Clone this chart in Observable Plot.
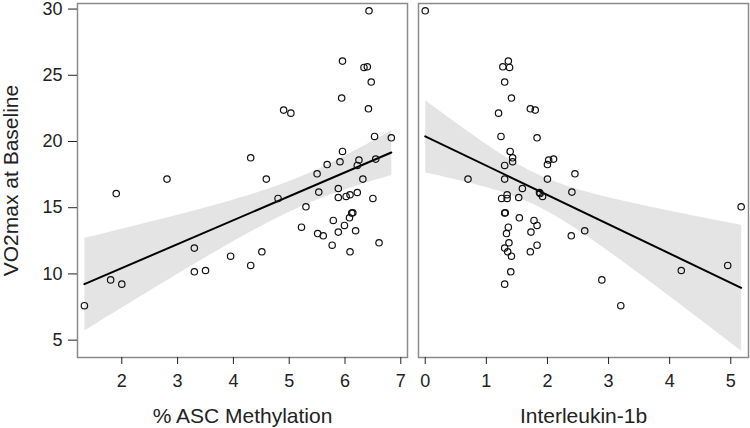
<!DOCTYPE html>
<html><head><meta charset="utf-8">
<script src="https://cdn.jsdelivr.net/npm/d3@7"></script>
<script src="https://cdn.jsdelivr.net/npm/@observablehq/plot@0.6"></script>
<style>
body{margin:0;background:#fff;}
#chart{display:flex;width:750px;height:428px;font-family:"Liberation Sans",Arial,sans-serif;}
</style></head><body><div id="chart"></div>
<script>
// VO2max at baseline (shared y), paired with % ASC methylation and Interleukin-1b
const vo2max = [7.6, 9.23, 9.55, 10.16, 10.26, 10.64, 11.34, 11.67, 11.67, 11.95,
  12.17, 12.35, 12.88, 13.05, 13.16, 13.26, 13.53, 13.66, 14.04, 14.24,
  14.6, 14.62, 15.07, 15.7, 15.7, 15.77, 15.85, 15.98, 16.07, 16.15,
  16.18, 16.45, 17.16, 17.16, 17.16, 17.56, 18.19, 18.26, 18.47, 18.6,
  18.67, 18.77, 19.25, 20.28, 20.38, 22.14, 22.37, 22.47, 23.28, 24.49,
  25.59, 25.64, 26.07, 29.87];
const ascMethylation = [1.33, 2.00, 1.80, 3.30, 3.50, 4.31, 3.95, 4.51, 6.09, 3.30,
  5.77, 6.61, 5.61, 5.51, 5.88, 6.19, 5.22, 5.99, 5.79, 6.08,
  6.12, 6.14, 5.30, 4.80, 6.50, 5.88, 6.02, 6.09, 1.90, 6.22,
  5.53, 5.88, 2.81, 4.59, 6.32, 5.50, 6.22, 5.68, 5.91, 6.25,
  6.55, 4.31, 5.955, 6.83, 6.53, 5.03, 4.90, 6.42, 5.94, 6.47,
  6.34, 6.40, 5.955, 6.43];
const interleukin1b = [3.20, 1.30, 2.89, 1.40, 4.19, 4.95, 1.41, 1.35, 1.72, 1.30,
  1.83, 1.37, 2.39, 1.33, 1.73, 2.61, 1.36, 1.83, 1.78, 1.54,
  1.30, 1.31, 5.17, 1.25, 1.34, 1.53, 1.92, 1.34, 1.88, 1.87,
  2.40, 1.59, 0.70, 1.30, 2.00, 2.45, 1.30, 2.00, 1.43, 2.02,
  2.10, 1.43, 1.39, 1.83, 1.24, 1.20, 1.80, 1.72, 1.41, 1.30,
  1.38, 1.27, 1.36, 0.00];
const yTicks = [5, 10, 15, 20, 25, 30];
const ascTicks = [2, 3, 4, 5, 6, 7];
const il1bTicks = [0, 1, 2, 3, 4, 5];
const yTitle = "VO2max at Baseline";
const ascTitle = "% ASC Methylation";
const il1bTitle = "Interleukin-1b";

const rows = vo2max.map((v, i) => ({vo2: v, asc: ascMethylation[i], il: interleukin1b[i]}));
const yDomain = [3.69, 30.42];
const fmt = d3.format("d");

function panel({xKey, xDomain, ticks, title, width, marginLeft, marginRight, showY}) {
  const marks = [
    Plot.linearRegressionY(rows, {x: xKey, y: "vo2", ci: 0.95, stroke: "#000", strokeWidth: 2, fill: "#e4e4e4", fillOpacity: 1}),
    Plot.dot(rows, {x: xKey, y: "vo2", r: 3.2, stroke: "#111", strokeWidth: 1.2, fill: "none"}),
    Plot.frame({stroke: "#8a8a8a", strokeWidth: 1.5}),
    Plot.axisX({ticks, tickFormat: fmt, tickSize: 7, tickPadding: 10, fontSize: 18, label: null}),
    Plot.text([title], {frameAnchor: "bottom", textAnchor: "middle", lineAnchor: "middle", dy: 59, fontSize: 21, fill: "#222"})
  ];
  if (showY) {
    marks.push(Plot.axisY({ticks: yTicks, tickFormat: fmt, tickSize: 9, tickPadding: 6, fontSize: 18, label: null}));
    marks.push(Plot.text([yTitle], {frameAnchor: "left", textAnchor: "middle", lineAnchor: "middle", rotate: -90, dx: -66, fontSize: 21, fill: "#222"}));
  } else {
    marks.push(Plot.axisY({ticks: [], label: null}));
  }
  return Plot.plot({
    width, height: 428,
    marginLeft, marginRight, marginTop: 3, marginBottom: 71,
    x: {domain: xDomain},
    y: {domain: yDomain},
    style: {fontFamily: "'Liberation Sans', Arial, sans-serif", color: "#222", background: "#fff", overflow: "visible"},
    marks
  });
}

const chart = document.getElementById("chart");
chart.append(panel({xKey: "asc", xDomain: [1.206, 7.12], ticks: ascTicks, title: ascTitle, width: 410, marginLeft: 77, marginRight: 3, showY: true}));
chart.append(panel({xKey: "il", xDomain: [-0.11, 5.29], ticks: il1bTicks, title: il1bTitle, width: 340, marginLeft: 8, marginRight: 2, showY: false}));
</script></body></html>
